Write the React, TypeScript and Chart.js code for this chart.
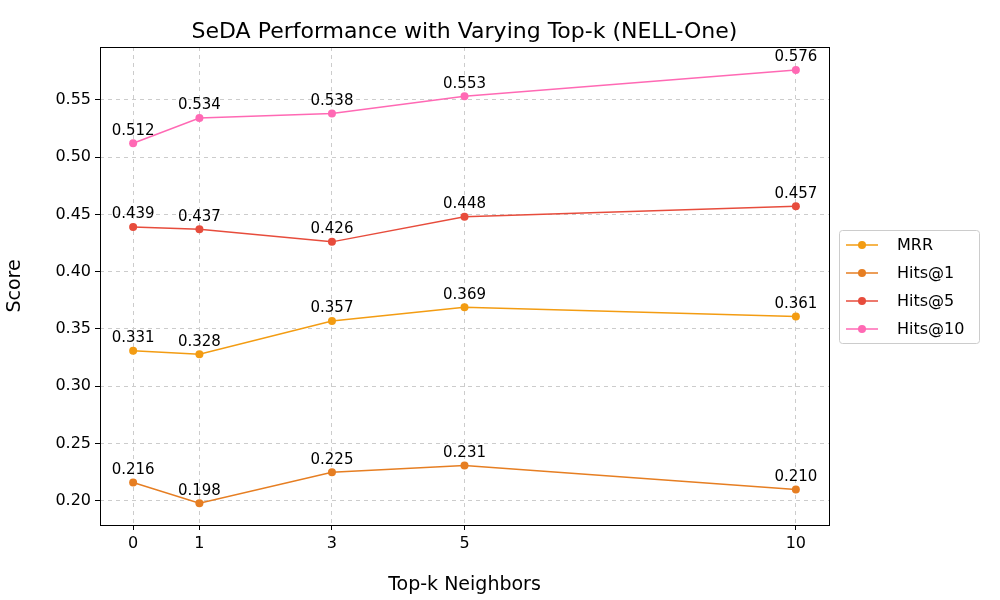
import React, { useEffect, useRef } from "react";
import Chart from "chart.js/auto";

const topK = [0, 1, 3, 5, 10];
const seriesNames = ["MRR", "Hits@1", "Hits@5", "Hits@10"];
const mrr = [0.331, 0.328, 0.357, 0.369, 0.361];
const hits1 = [0.216, 0.198, 0.225, 0.231, 0.21];
const hits5 = [0.439, 0.437, 0.426, 0.448, 0.457];
const hits10 = [0.512, 0.534, 0.538, 0.553, 0.576];
const colors = ["#f39c12", "#e67e22", "#e74c3c", "#ff69b4"];
const yTicks = [0.2, 0.25, 0.3, 0.35, 0.4, 0.45, 0.5, 0.55];

const FONT = "'DejaVu Sans', sans-serif";

const decorations = {
	id: "decorations",
	afterDatasetsDraw(chart: any) {
		const ctx = chart.ctx;
		const a = chart.chartArea;
		ctx.save();
		// frame
		ctx.strokeStyle = "#000";
		ctx.lineWidth = 1;
		ctx.strokeRect(a.left + 0.5, a.top + 0.5, a.right - a.left, a.bottom - a.top);
		// title
		ctx.fillStyle = "#000";
		ctx.font = `22px ${FONT}`;
		ctx.textAlign = "center";
		ctx.textBaseline = "middle";
		ctx.fillText("SeDA Performance with Varying Top-k (NELL-One)", (a.left + a.right) / 2, 32);
		// value labels
		ctx.font = `15px ${FONT}`;
		ctx.textBaseline = "bottom";
		chart.data.datasets.forEach((ds: any, i: number) => {
			const meta = chart.getDatasetMeta(i);
			meta.data.forEach((pt: any, j: number) => {
				ctx.fillText(ds.data[j].y.toFixed(3), pt.x, pt.y - 5);
			});
		});
		// legend
		const lx = 839, ly = 230, lw = 140, lh = 113;
		ctx.fillStyle = "rgba(255,255,255,0.8)";
		ctx.strokeStyle = "#ccc";
		ctx.beginPath();
		ctx.roundRect(lx + 0.5, ly + 0.5, lw, lh, 3);
		ctx.fill();
		ctx.stroke();
		ctx.font = `16px ${FONT}`;
		ctx.textAlign = "left";
		ctx.textBaseline = "middle";
		chart.data.datasets.forEach((ds: any, i: number) => {
			const y = ly + 15 + i * 28;
			ctx.strokeStyle = ds.borderColor;
			ctx.lineWidth = 1.5;
			ctx.beginPath();
			ctx.moveTo(846, y);
			ctx.lineTo(878, y);
			ctx.stroke();
			ctx.fillStyle = ds.borderColor;
			ctx.beginPath();
			ctx.arc(862, y, 4, 0, Math.PI * 2);
			ctx.fill();
			ctx.fillStyle = "#000";
			ctx.fillText(ds.label, 897, y + 1);
		});
		ctx.restore();
	},
};

const App: React.FC = () => {
	const chartRef = useRef<HTMLCanvasElement>(null);
	const chartInstance = useRef<Chart | null>(null);

	useEffect(() => {
		document.body.style.margin = "0";
		if (!chartRef.current) return;
		if (chartInstance.current) chartInstance.current.destroy();
		const all = [mrr, hits1, hits5, hits10];
		chartInstance.current = new Chart(chartRef.current, {
			type: "line",
			data: {
				datasets: all.map((vals, i) => ({
					label: seriesNames[i],
					data: vals.map((v, j) => ({ x: topK[j], y: v })),
					borderColor: colors[i],
					backgroundColor: colors[i],
					borderWidth: 1.5,
					pointRadius: 4,
					pointBorderWidth: 0,
				})),
			},
			options: {
				animation: false,
				responsive: false,
				layout: { padding: { top: 47, right: 171, left: 0, bottom: 0 } },
				plugins: { legend: { display: false }, title: { display: false }, tooltip: { enabled: false } },
				scales: {
					x: {
						type: "linear",
						min: -0.5,
						max: 10.5,
						afterBuildTicks: (s: any) => { s.ticks = topK.map((v) => ({ value: v })); },
						afterFit: (s: any) => { s.height = 75; },
						ticks: { color: "#000", font: { family: FONT, size: 16 }, padding: 4 },
						grid: { color: "#cccccc", tickColor: "#000", tickLength: 5 },
						border: { display: false, dash: [4, 4] },
						title: { display: true, text: "Top-k Neighbors", color: "#000", font: { family: FONT, size: 19 }, padding: { top: 2 } },
					},
					y: {
						min: 0.179,
						max: 0.596,
						afterBuildTicks: (s: any) => { s.ticks = yTicks.map((v) => ({ value: v })); },
						afterFit: (s: any) => { s.width = 100; },
						ticks: { color: "#000", font: { family: FONT, size: 16 }, padding: 4, callback: (v: any) => Number(v).toFixed(2) },
						grid: { color: "#cccccc", tickColor: "#000", tickLength: 5 },
						border: { display: false, dash: [4, 4] },
						title: { display: true, text: "Score", color: "#000", font: { family: FONT, size: 19 } },
					},
				},
			},
			plugins: [decorations],
		} as any);
		return () => {
			if (chartInstance.current) chartInstance.current.destroy();
		};
	}, []);

	return (
		<div style={{ width: 1000, height: 600, background: "#fff" }}>
			<canvas ref={chartRef} width={1000} height={600}></canvas>
		</div>
	);
};

export default App;
